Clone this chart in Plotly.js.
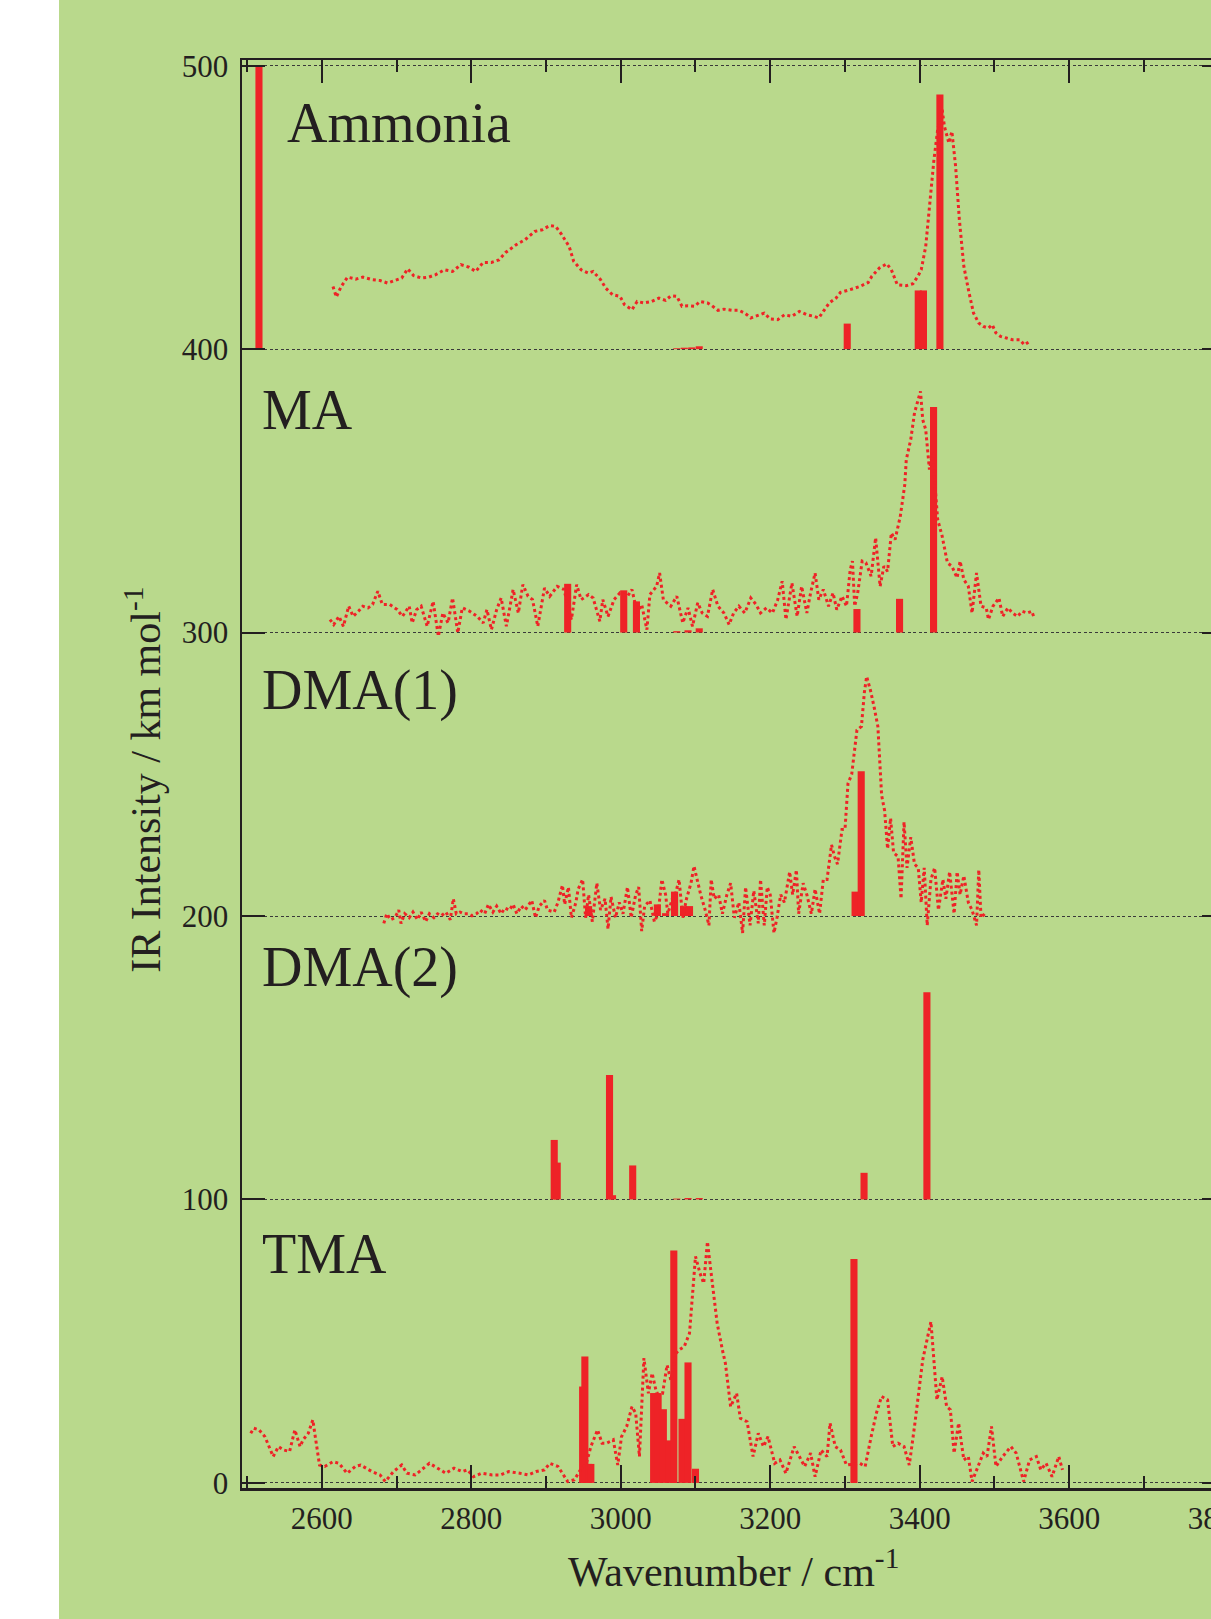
<!DOCTYPE html>
<html><head><meta charset="utf-8">
<script src="https://cdn.plot.ly/plotly-3.0.1.min.js"></script>
<style>
html,body{margin:0;padding:0;background:#ffffff;width:1211px;height:1619px;overflow:hidden;}
#bg{position:absolute;left:59px;top:0;width:1152px;height:1619px;background:#b9d98c;overflow:hidden;}
#chart{position:absolute;left:0;top:0;width:1240px;height:1619px;}
</style></head><body>
<div id="bg"><div id="chart"></div></div>
<script>
// ---------- data (IR intensity, km/mol, relative to each panel's baseline) ----------
const panelNames = ['Ammonia', 'MA', 'DMA(1)', 'DMA(2)', 'TMA'];
const panelBaselines = [400, 300, 200, 100, 0];

// Ammonia
const ammoniaExpX = [2615,2619.5,2626,2634.5,2645.5,2655,2668,2678,2688,2697,
2707,2715,2723,2733,2743,2752,2764,2775,2786,2797,
2806,2816,2827,2837,2846,2860,2872,2885,2895,2905,
2913,2921,2931,2937,2947,2957,2963,2973,2980,2989,
2999,3005,3015,3022,3031,3041,3051,3060,3067,3075,
3082,3090,3099,3106,3116,3122,3130,3138,3149,3158,
3166,3174,3184,3192,3200,3210,3219,3229,3239,3249,
3258,3265,3271,3279,3288,3294,3307,3320,3331,3336,
3346,3356,3362,3370,3382,3391,3398,3402,3408,3414,
3419,3424,3430,3433,3439,3443,3448,3453,3459,3466,
3472,3479,3485,3492,3497,3502,3508,3516,3524,3534,
3540,3547];
const ammoniaExpY = [22.1,18.4,22.1,25.4,24.7,25.4,24.5,24.2,23.3,24.2,
25.1,28.3,25.9,25.1,25.4,26.2,28,27.4,29.8,28.9,
27.4,30.6,30.6,31.5,34.1,36.8,38.6,41.5,42.1,43.6,
43.3,40.4,36.2,31,28,26.8,27.4,24.5,21.5,19.2,
18.6,15.7,13.9,16.8,16.3,16.8,18,17.2,18.8,18.6,
15.1,15.3,15.1,16.8,16.3,15.3,13.7,14.1,13.7,13.7,
12.7,11,12.1,12.7,10.6,10.4,12.1,11.6,13.3,12.1,
11.6,11,13.3,16.3,18,20,21,22.1,23.5,25.7,
28.6,30.1,28,22.7,22.4,23.1,25.9,28,36.2,52.7,
66.8,77.4,84.5,78.6,72.7,76.8,64.5,45.7,29.2,19.8,
12.7,9.2,8,7.4,8.6,5.7,4.5,3.9,3.3,3.3,
1.5,2.7];
const ammoniaCalcX = [2516,3075,3085,3095,3105,3303,3398,3405,3427];
const ammoniaCalcY = [100,0.3,0.5,0.6,1.0,9,20.7,20.7,89.8];

// MA
const maExpX = [2611,2616,2623,2629,2636,2642,2649,2655,2662,2668,
2675,2681,2691,2701,2708,2717,2721,2727,2733,2741,
2749,2756,2762,2769,2775,2782,2788,2798,2808,2816,
2821,2827,2834,2840,2847,2856,2863,2869,2876,2882,
2889,2898,2905,2915,2924,2934,2941,2947,2957,2963,
2972,2976,2983,2991,2999,3009,3015,3022,3028,3035,
3039,3048,3052,3057,3067,3075,3083,3090,3096,3103,
3109,3116,3123,3130,3138,3145,3151,3158,3166,3174,
3181,3187,3195,3203,3210,3216,3221,3229,3236,3242,
3249,3254,3260,3265,3271,3278,3284,3289,3296,3302,
3307,3310,3313,3317,3323,3328,3335,3341,3347,3352,
3357,3362,3367,3374,3380,3382,3388,3393,3401,3404,
3408,3413,3417,3424,3430,3437,3443,3450,3454,3459,
3465,3470,3476,3482,3489,3492,3498,3506,3511,3518,
3524,3531,3537,3544,3550,3553];
const maExpY = [4.6,2.8,5.7,2.2,9.3,5.7,7.5,9.3,8.7,9.9,
14.6,9.9,9.9,8.1,5.7,9.3,3.4,8.1,9.3,2.2,
11,-1.3,6.9,3.4,12.2,-0.1,8.7,7.5,5.7,3.4,
8.1,1.0,8.1,12.2,2.2,15.2,6.9,16.9,12.8,11.6,
2.2,15.7,12.8,16.3,15.2,4.6,16.9,11.6,13.4,12.2,
4,11.6,5.7,11.6,14,12.8,15.2,6.9,9.9,1.0,
13.4,16.3,21,11.6,9.3,12.8,3.4,8.7,2.2,10.5,
6.9,5.7,15.2,9.3,6.9,2.8,6.9,9.3,6.9,12.2,
9.9,6.9,8.7,6.9,11.6,18.1,4.6,17.5,5.7,16.3,
6.9,14,21,11.6,15.2,9.3,14,8.1,12.8,9.3,
22.2,25.2,9.3,14,25.2,24.6,19.9,33.4,16.3,23.4,
21.6,35.1,32.8,41,52.2,61,68.1,77.5,85.1,75.1,
71.6,57.5,63.4,39.9,34,24.6,23.4,19.3,25.2,18.7,
16.3,6.9,21,9.3,8.7,4.6,9.3,12.2,5.7,8.7,
6.9,5.7,7.5,6.9,7.5,5.2];
const maCalcX = [2929,3004,3021,3075,3090,3105,3316,3373,3418.5];
const maCalcY = [17.2,14.9,11.0,0.5,0.8,1.5,8.3,11.9,79.6];

// DMA(1)
const dma1ExpX = [2683,2687,2692,2698,2703,2706,2711,2717,2722,2728,
2733,2739,2744,2750,2755,2760,2766,2772,2776,2780,
2785,2790,2796,2801,2807,2812,2818,2823,2829,2834,
2840,2845,2851,2856,2861,2867,2872,2881,2886,2891,
2898,2902,2911,2916,2922,2925,2930,2934,2940,2943,
2949,2953,2957,2962,2968,2973,2979,2983,2987,2993,
2998,3003,3009,3014,3020,3024,3028,3032,3039,3045,
3050,3055,3060,3063,3069,3073,3078,3083,3088,3094,
3098,3102,3107,3113,3118,3121,3125,3131,3136,3142,
3147,3152,3158,3163,3167,3173,3178,3184,3187,3192,
3196,3200,3205,3209,3214,3219,3226,3230,3235,3238,
3244,3249,3255,3260,3266,3271,3276,3282,3286,3290,
3296,3300,3304,3309,3314,3316,3322,3326,3329,3334,
3339,3344,3349,3353,3357,3361,3365,3371,3375,3379,
3383,3388,3393,3398,3402,3406,3410,3415,3420,3425,
3431,3435,3440,3446,3450,3454,3459,3465,3470,3476,
3479,3482,3487];
const dma1ExpY = [-2.6,0.8,-1.3,-0.6,2.1,-2.6,0.8,-0.6,1.4,-1.3,
1.4,-2,0.8,-0.6,0.8,0.1,1.4,-1.3,6.1,0.8,
1.4,0.8,0.8,0.1,0.8,2.1,0.8,4.1,1.4,3.5,
0.8,2.8,2.1,4.1,0.8,3.5,2.1,5.5,-0.6,3.5,
5.5,2.1,1.4,4.8,10.9,4.1,10.2,-0.6,4.8,9.5,
12.9,-0.6,7.5,-2,11.6,2.1,6.1,-4.6,6.8,-0.6,
4.8,0.8,10.2,-0.6,7.5,10.2,-5.3,3.5,5.5,-2,
0.8,12.9,7.5,0.8,6.1,7.5,12.9,-0.6,6.1,11.6,
17.6,12.9,7.5,2.1,-3.3,12.9,6.1,7.5,0.8,7.5,
11.6,-0.6,4.8,-6,10.2,-3.3,8.9,-2.6,12.9,-3.3,
10.2,7.5,-6,-0.6,7.5,4.8,15.6,7.5,16.3,0.8,
11.6,7.5,0.8,9.5,0.8,12.9,12.9,25.1,21,18.3,
30.5,30.5,46.7,50,62.9,65.6,66.9,79.1,84.5,79.7,
73.7,66.9,42.6,37.2,23.7,34.5,22.3,21,6.1,33.2,
17,27.8,18.3,17,4.8,17,-3.3,12.9,17,2.1,
12.9,6.1,15.6,0.8,15.6,7.5,14.2,4.8,2.1,-3.3,
16.3,-0.6,0.8];
const dma1CalcX = [2957,3049,3060,3072,3084,3092,3313.5,3321.7];
const dma1CalcY = [3.5,4.1,1.0,8.6,3.5,3.5,8.6,51.1];

// DMA(2) (calculation only)
const dma2CalcX = [2911,2915,2985,2989,3016,3075,3090,3105,3325.5,3409.6];
const dma2CalcY = [21,13,43.9,1.5,12,0.3,0.5,0.5,9.4,73.1];

// TMA
const tmaExpX = [2505,2509,2516,2524,2535,2542,2549,2557,2564,2571,
2575,2582,2588,2593,2597,2604,2615,2623,2634,2645,
2652,2667,2678,2685,2696,2707,2714,2725,2744,2755,
2766,2777,2788,2795,2803,2814,2828,2839,2850,2865,
2876,2887,2898,2905,2916,2929,2938,2946,2954,2960,
2969,2975,2981,2990,2996,3001,3008,3015,3020,3025,
3031,3037,3042,3048,3056,3062,3067,3074,3078,3085,
3092,3100,3106,3111,3116,3122,3129,3136,3140,3147,
3155,3160,3169,3177,3184,3191,3197,3206,3213,3221,
3232,3239,3246,3254,3260,3268,3276,3280,3287,3294,
3302,3320,3327,3335,3342,3349,3357,3364,3371,3379,
3386,3393,3404,3415,3423,3430,3436,3441,3446,3452,
3459,3465,3470,3478,3485,3490,3496,3502,3511,3522,
3529,3539,3547,3556,3562,3569,3577,3586,3591];
const tmaExpY = [17.5,19.3,18.7,16.3,9.3,12.8,11.6,11.1,18.7,12.8,
15.2,17.5,22.2,12.8,6.3,5.8,7.5,6.9,3.4,5.8,
6.3,4.0,2.8,0.5,4.0,6.3,3.4,2.8,6.9,5.2,
3.4,5.2,4.0,4.6,2.2,3.4,2.8,2.8,4.0,3.4,
2.8,4.0,4.6,6.9,5.8,0.5,1.1,4.6,6.9,12.8,
18.7,14.0,14.0,15.2,6.3,16.3,19.9,26.9,24.6,9.3,
44.0,31.6,38.7,31.6,31.6,41.6,36.3,45.7,46.9,48.1,
52.8,79.9,74.0,70.4,85.1,71.6,56.3,46.9,42.2,26.9,
31.6,22.8,21.6,9.3,17.5,12.8,16.3,6.9,8.1,3.4,
12.8,9.3,5.8,10.5,2.2,11.6,9.3,21.1,12.8,11.6,
6.3,6.9,5.8,16.3,24.6,30.5,29.3,12.8,14.0,12.8,
6.3,19.9,43.4,56.9,29.3,37.5,26.9,25.8,10.5,21.1,
8.1,9.3,0.5,5.8,10.5,9.3,19.9,5.8,9.3,12.8,
10.5,0.5,8.1,9.3,4.6,6.9,2.2,9.3,4.6];
const tmaCalcX = [2949,2952,2957,2960,3044,3050,3057,3064,3071,3082,3090,3100,3312];
const tmaCalcY = [34,44.6,6.7,6.7,31.7,31.7,26,15,82,22.6,42.5,5,79];

const yTickVals = [0,100,200,300,400,500];
const yTickText = ['0','100','200','300','400','500'];

// ---------- drawing ----------
const RED = '#ee2327';
const INK = '#231f20';
const FONT = 'Liberation Serif, Times New Roman, serif';

const expSets = [
  [ammoniaExpX, ammoniaExpY, 0],
  [maExpX, maExpY, 1],
  [dma1ExpX, dma1ExpY, 2],
  [tmaExpX, tmaExpY, 4]
];
const calcSets = [
  [ammoniaCalcX, ammoniaCalcY, 0],
  [maCalcX, maCalcY, 1],
  [dma1CalcX, dma1CalcY, 2],
  [dma2CalcX, dma2CalcY, 3],
  [tmaCalcX, tmaCalcY, 4]
];

const traces = [];
calcSets.forEach(([xs, ys, i]) => {
  traces.push({
    type: 'bar', x: xs, y: ys, base: panelBaselines[i],
    width: 9.5, marker: {color: RED, line: {width: 0}},
    hoverinfo: 'skip'
  });
});
expSets.forEach(([xs, ys, i]) => {
  traces.push({
    type: 'scatter', mode: 'lines', x: xs,
    y: ys.map(v => v + panelBaselines[i]),
    line: {color: RED, width: 3, dash: 'dot'},
    hoverinfo: 'skip'
  });
});

const labelPos = [
  {x: 2551, y: 479.6},
  {x: 2518, y: 378.5},
  {x: 2518, y: 279.7},
  {x: 2518, y: 181.8},
  {x: 2518, y: 80.7}
];
const annotations = panelNames.map((name, i) => ({
  text: name, x: labelPos[i].x, y: labelPos[i].y, xref: 'x', yref: 'y',
  xanchor: 'left', yanchor: 'middle', showarrow: false,
  font: {family: FONT, size: 56, color: INK}
}));
annotations.push({
  text: 'Wavenumber / cm<sup>-1</sup>', xref: 'paper', yref: 'paper',
  x: 0.5, y: -0.0565, xanchor: 'center', yanchor: 'middle', showarrow: false,
  font: {family: FONT, size: 42, color: INK}
});
annotations.push({
  text: 'IR Intensity / km mol<sup>-1</sup>', xref: 'paper', yref: 'paper',
  x: -0.1, y: 0.4958, xanchor: 'center', yanchor: 'middle', showarrow: false,
  textangle: -90,
  font: {family: FONT, size: 42, color: INK}
});

const layout = {
  width: 1240, height: 1619,
  margin: {l: 183, r: 74, t: 60, b: 131, pad: 0},
  paper_bgcolor: 'rgba(0,0,0,0)', plot_bgcolor: 'rgba(0,0,0,0)',
  showlegend: false,
  barmode: 'overlay',
  font: {family: FONT, color: INK},
  xaxis: {
    range: [2493.3, 3808.4], tick0: 2600, dtick: 200,
    ticks: 'inside', ticklen: 23, tickwidth: 2, tickcolor: INK,
    minor: {dtick: 100, tick0: 2500, ticks: 'inside', ticklen: 12, tickwidth: 2, tickcolor: INK},
    showline: true, linewidth: 2.5, linecolor: INK, mirror: 'ticks',
    showgrid: false, zeroline: false,
    tickfont: {family: FONT, size: 31, color: INK}, ticklabelstandoff: 1
  },
  yaxis: {
    range: [-1.8, 502], tickmode: 'array', tickvals: yTickVals, ticktext: yTickText,
    ticks: 'inside', ticklen: 23, tickwidth: 2, tickcolor: INK,
    showline: true, linewidth: 2.5, linecolor: INK, mirror: 'ticks',
    showgrid: true, gridcolor: '#3a3a3a', gridwidth: 1, griddash: '3px,2.5px',
    zeroline: false,
    tickfont: {family: FONT, size: 31, color: INK}, ticklabelstandoff: 5
  },
  annotations: annotations
};

Plotly.newPlot('chart', traces, layout, {staticPlot: true, displayModeBar: false});
</script>
</body></html>
